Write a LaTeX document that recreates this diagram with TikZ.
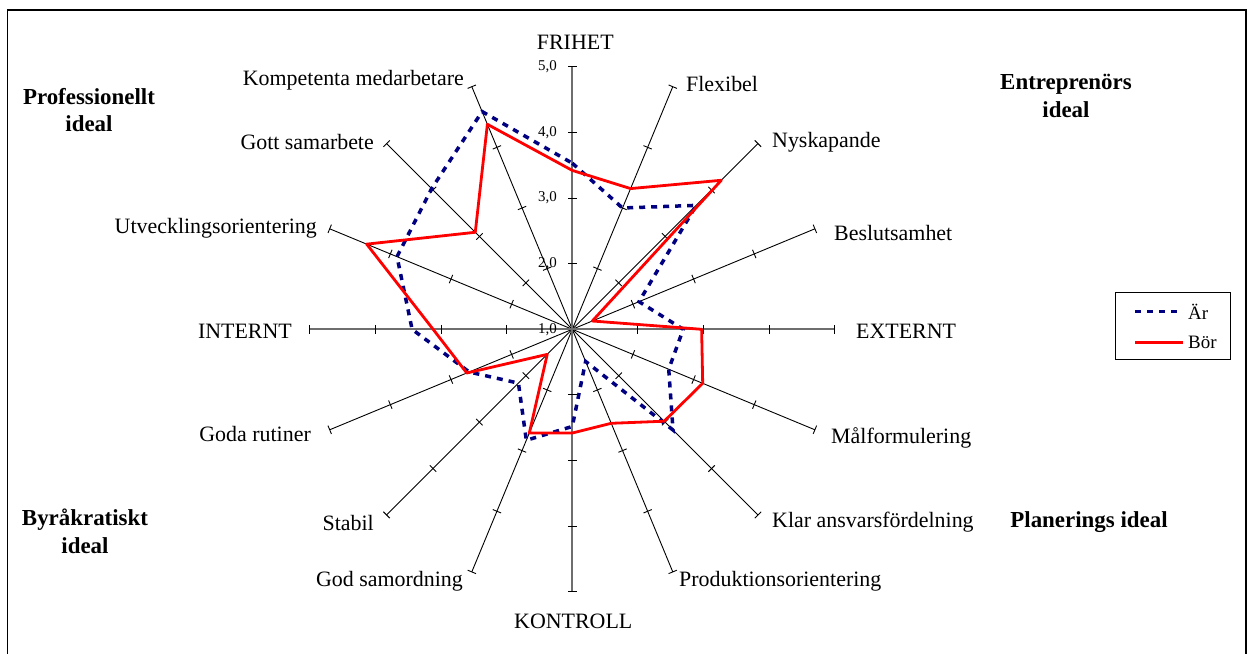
\documentclass[tikz,border=0pt]{standalone}
\usepackage{fontspec}
\setmainfont{Liberation Serif}
\definecolor{serblue}{RGB}{0,0,128}
\definecolor{serred}{RGB}{255,0,0}
\definecolor{axgray}{RGB}{110,110,110}
\begin{document}
\begin{tikzpicture}[x=1bp,y=1bp,
  lbl/.style={font=\fontsize{22}{26}\selectfont, inner sep=0pt},
  grp/.style={font=\fontsize{23}{28}\selectfont\bfseries, inner sep=0pt, align=center},
  vlbl/.style={font=\fontsize{15}{18}\selectfont, inner sep=0pt, anchor=east},
  axisline/.style={draw=black, line width=0.9bp},
  mainaxis/.style={draw=axgray, line width=1.8bp},
  tickmark/.style={draw=black, line width=0.9bp},
  bor/.style={draw=serred, line width=2.8bp, line join=round},
  ar/.style={draw=serblue, line width=3.5bp, dash pattern=on 6bp off 6bp},
  frame/.style={draw=black, line width=1.8bp}]
\useasboundingbox (-572.3,-324.7) rectangle (676.7,329.3);
\def\U{65.65}
\def\R{262.6}
\coordinate (C) at (0,0);
% frame
\draw[frame] (-564.8,-340) -- (-564.8,319.3) -- (673.4,319.3) -- (673.4,-340);
% axes
\foreach \a in {22.5,45,67.5,112.5,135,157.5,202.5,225,247.5,292.5,315,337.5}
  \draw[axisline] (C) -- (\a:\R);
\foreach \a in {0,90,180,270}
  \draw[mainaxis] (C) -- (\a:\R);
% ticks
\foreach \a in {0,22.5,...,337.5}
  \foreach \k in {1,2,3,4}
    \draw[tickmark,rotate=\a] ({\k*\U},-4.5) -- ({\k*\U},4.5);
% value labels
\foreach \v [count=\i from 0] in {1,2,3,4,5}
  \node[vlbl] (v\i) at (-15.3,{\i*\U}) {\v,0};
% series Bör
\foreach \a/\v [count=\i] in {90/3.42,67.5/3.32,45/4.21,22.5/1.33,0/2.97,-22.5/3.15,-45/2.98,-67.5/2.55,-90/2.58,-112.5/2.71,-135/1.54,-157.5/2.74,180/3.12,157.5/4.39,135/3.09,112.5/4.38}
  \coordinate (B\i) at (\a:{(\v-1)*\U});
% series Är
\foreach \a/\v [count=\i] in {90/3.53,67.5/3.00,45/3.67,22.5/2.10,0/2.69,-22.5/2.59,-45/3.17,-67.5/1.53,-90/2.48,-112.5/2.83,-135/2.16,-157.5/2.70,180/3.44,157.5/3.89,135/4.03,112.5/4.59}
  \coordinate (A\i) at (\a:{(\v-1)*\U});
\draw[ar] (A1) -- (A2) -- (A3) -- (A4) -- (A5) -- (A6) -- (A7) -- (A8) -- (A9) -- (A10) -- (A11) -- (A12) -- (A13) -- (A14) -- (A15) -- (A16) -- cycle;
\draw[bor] (B1) -- (B2) -- (B3) -- (B4) -- (B5) -- (B6) -- (B7) -- (B8) -- (B9) -- (B10) -- (B11) -- (B12) -- (B13) -- (B14) -- (B15) -- (B16) -- cycle;
% category labels
\node[lbl] (frihet) at (3,287.3) {FRIHET};
\node[lbl] (kontroll) at (1,-291.7) {KONTROLL};
\node[lbl,anchor=west] (flex) at (113.7,245.3) {Flexibel};
\node[lbl,anchor=west] (nysk) at (199.7,187.3) {Nyskapande};
\node[lbl,anchor=west] (besl) at (261.7,96.3) {Beslutsamhet};
\node[lbl,anchor=west] (ext) at (283.7,-1.7) {EXTERNT};
\node[lbl,anchor=west] (malf) at (258.7,-108.7) {Målformulering};
\node[lbl,anchor=west] (klar) at (199.7,-192.7) {Klar ansvarsfördelning};
\node[lbl,anchor=west] (prod) at (106.7,-251.7) {Produktionsorientering};
\node[lbl,anchor=east] (gods) at (-109.3,-251.7) {God samordning};
\node[lbl,anchor=east] (stab) at (-198.3,-193.7) {Stabil};
\node[lbl,anchor=east] (godr) at (-261.3,-104.7) {Goda rutiner};
\node[lbl,anchor=east] (int) at (-280.3,-1.7) {INTERNT};
\node[lbl,anchor=east] (utv) at (-255.3,101.3) {Utvecklingsorientering};
\node[lbl,anchor=east] (gott) at (-198.3,187.3) {Gott samarbete};
\node[lbl,anchor=east] (komp) at (-108.3,249.3) {Kompetenta medarbetare};
% group labels
\node[grp] (prof) at (-483.3,219.3) {Professionellt\\ideal};
\node[grp] (entr) at (493.7,233.3) {Entreprenörs\\ideal};
\node[grp] (byra) at (-487.3,-201.7) {Byråkratiskt\\ideal};
\node[grp] (plan) at (516.7,-192.7) {Planerings ideal};
% legend
\draw[draw=black, line width=1bp] (542.7,36.6) rectangle (658.4,-30);
\coordinate (la1) at (562.7,17.6);
\coordinate (la2) at (610.7,17.6);
\coordinate (lb1) at (562.7,-13.4);
\coordinate (lb2) at (610.7,-13.4);
\draw[ar] (la1) -- (la2);
\draw[bor] (lb1) -- (lb2);
\node[lbl,anchor=west,font=\fontsize{19}{22}\selectfont] (lar) at (615.7,17.6) {Är};
\node[lbl,anchor=west,font=\fontsize{19}{22}\selectfont] (lbor) at (615.7,-13.4) {Bör};
\end{tikzpicture}
\end{document}
